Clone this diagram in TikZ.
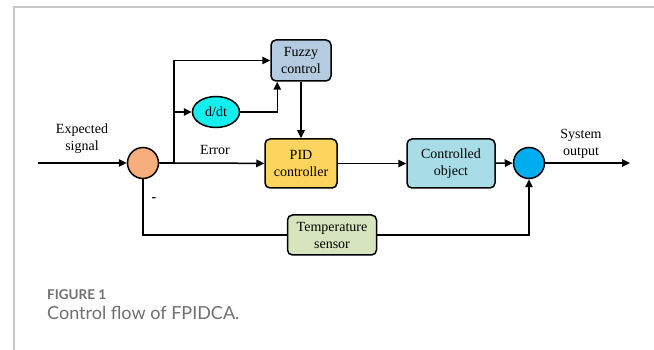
\documentclass[tikz,border=0pt]{standalone}
\usepackage{fontspec}
\setmainfont{Liberation Serif}
\newfontfamily\capfont{Lato}
\usetikzlibrary{arrows.meta, positioning, calc, shapes.geometric}
\definecolor{sumorange}{HTML}{F8AD7C}
\definecolor{ddtcyan}{HTML}{14EEEE}
\definecolor{fuzzyblue}{HTML}{B4CBE0}
\definecolor{pidgold}{HTML}{FDD55E}
\definecolor{objblue}{HTML}{A8DDE8}
\definecolor{outblue}{HTML}{00AEEF}
\definecolor{sensgreen}{HTML}{D7E5BE}
\definecolor{framegray}{HTML}{C8C8C8}
\definecolor{capgray}{HTML}{707070}
\tikzset{
  blk/.style = {draw=black, rounded corners=5pt, line width=1.5pt,
    align=center, inner sep=0pt, font=\fontsize{14}{17}\selectfont},
  sumc/.style = {circle, draw=black, line width=1.5pt, minimum size=31pt,
    inner sep=0pt},
  ovl/.style = {ellipse, draw=black, line width=1.5pt, minimum width=47pt,
    minimum height=31pt, inner sep=0pt, font=\fontsize{14}{17}\selectfont},
  lbl/.style = {align=center, font=\fontsize{14}{17}\selectfont},
  sig/.style = {-{Triangle[length=8pt,width=7.5pt]}, line width=1.5pt},
  ln/.style = {line width=1.5pt}
}

\begin{document}
\begin{tikzpicture}[x=1pt, y=-1pt]
  \useasboundingbox (0,0) rectangle (654,350);
  \draw [framegray, line width=1.5pt] (14,350) -- (14,7) -- (654,7);

  % blocks
  \node [sumc, fill=sumorange] (sum) at (143,163) {};
  \node [sumc, fill=outblue] (outsum) at (529,163) {};
  \node [ovl, fill=ddtcyan] (ddt) at (216,112) {d/dt};
  \node [blk, fill=fuzzyblue, minimum width=60pt, minimum height=41pt]
    (fuzzy) at (301,60.5) {Fuzzy\\control};
  \node [blk, fill=pidgold, minimum width=72pt, minimum height=49pt]
    (pid) at (301,163.5) {PID\\controller};
  \node [blk, fill=objblue, minimum width=88pt, minimum height=49pt]
    (obj) at (451,163.5) {Controlled\\object};
  \node [blk, fill=sensgreen, minimum width=89pt, minimum height=40pt]
    (sens) at (332,235) {Temperature\\sensor};

  \coordinate (in) at (38,163);
  \coordinate (out) at (630,163);
  \coordinate (j) at (174,163);

  % labels
  \node [lbl] (lin) at (82,139) {Expected\\signal};
  \node [lbl] (lerr) at (215,150) {Error};
  \node [lbl] (lout) at (581,144) {System\\output};
  \node [lbl, font=\bfseries\fontsize{14}{17}\selectfont] (lminus) at (154,200) {-};

  % connectors
  \draw [sig] (in) -- (sum);
  \draw [ln] (sum) -- (j);
  \draw [sig] (j) -- (pid);
  \draw [sig] (j) |- (fuzzy.west);
  \draw [sig] (ddt.west -| j) -- (ddt);
  \draw [sig] (ddt) -| ([xshift=7pt]fuzzy.south west);
  \draw [sig] (fuzzy) -- (pid);
  \draw [sig] (pid) -- (obj);
  \draw [sig] (obj) -- (outsum);
  \draw [sig] (outsum) -- (out);
  \draw [ln] (sum) |- (sens);
  \draw [sig] (sens) -| (outsum);

  % caption
  \node [anchor=west, font=\capfont\bfseries\fontsize{13.5}{16}\selectfont,
    text=capgray, inner sep=0pt] (fig) at (47,295) {FIGURE 1};
  \node [anchor=west, font=\capfont\fontsize{18}{21}\selectfont,
    text=capgray, inner sep=0pt] (cap) at (47,313) {Control flow of FPIDCA.};
\end{tikzpicture}
\end{document}
